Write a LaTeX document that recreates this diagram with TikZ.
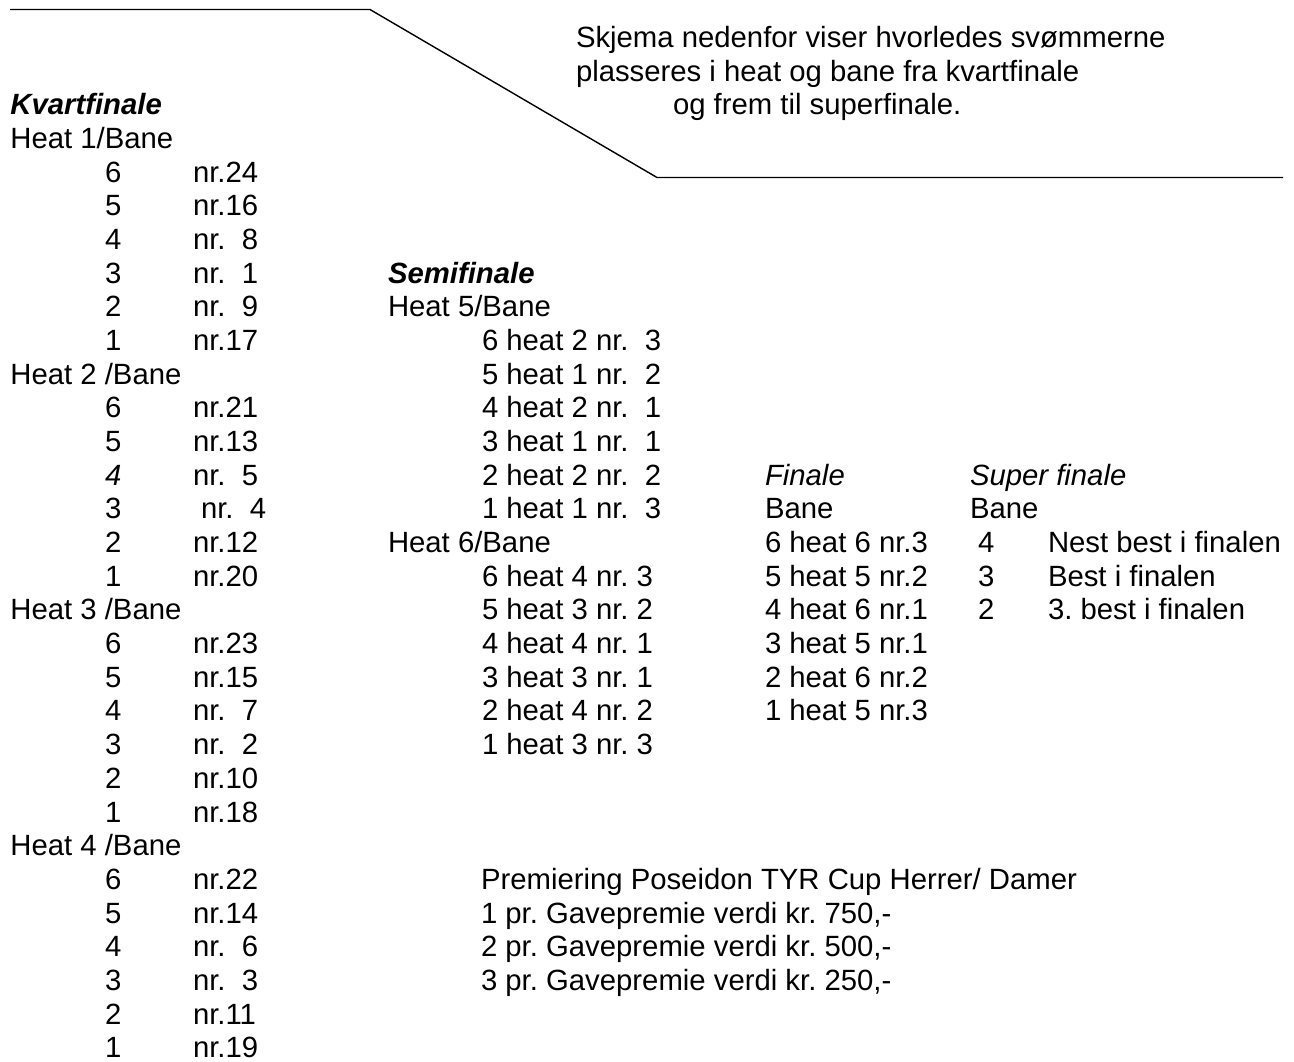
\documentclass[tikz,border=0pt]{standalone}
\usepackage{fontspec}
\setmainfont{Liberation Sans}
\tikzset{
  txt/.style={anchor=base west, inner sep=0pt, outer sep=0pt, font=\fontsize{29.3}{33.7}\selectfont},
  rule/.style={line width=1.4pt, draw=black}
}
\newcommand\Ln[4]{\node[txt] (#1) at (#2,{148.4+33.68*(#3)}) {#4};}
\begin{document}
\frenchspacing
\begin{tikzpicture}[x=1pt,y=-1pt]
\useasboundingbox (0,0) rectangle (1294,1061);
% top rule
\coordinate (tl) at (10,9.5);
\coordinate (c1) at (370,9.5);
\coordinate (c2) at (657,177.5);
\coordinate (tr) at (1283,177.5);
\draw[rule] (tl) -- (c1) -- (c2) -- (tr);
% intro text
\Ln{introA}{576}{-3}{Skjema nedenfor viser hvorledes svømmerne}
\Ln{introB}{576}{-2}{plasseres i heat og bane fra kvartfinale}
\Ln{introC}{673}{-1}{og frem til superfinale.}
% Kvartfinale
\Ln{kv}{10.4}{-1}{\textbf{\textit{Kvartfinale}}}
\Ln{hA}{10.4}{0}{Heat 1/Bane}
\Ln{dA1}{105}{1}{6}\Ln{nA1}{193}{1}{nr.24}
\Ln{dA2}{105}{2}{5}\Ln{nA2}{193}{2}{nr.16}
\Ln{dA3}{105}{3}{4}\Ln{nA3}{193}{3}{nr.\ \ 8}
\Ln{dA4}{105}{4}{3}\Ln{nA4}{193}{4}{nr.\ \ 1}
\Ln{dA5}{105}{5}{2}\Ln{nA5}{193}{5}{nr.\ \ 9}
\Ln{dA6}{105}{6}{1}\Ln{nA6}{193}{6}{nr.17}
\Ln{hB}{10.4}{7}{Heat 2 /Bane}
\Ln{dB1}{105}{8}{6}\Ln{nB1}{193}{8}{nr.21}
\Ln{dB2}{105}{9}{5}\Ln{nB2}{193}{9}{nr.13}
\Ln{dB3}{105}{10}{\textit{4}}\Ln{nB3}{193}{10}{nr.\ \ 5}
\Ln{dB4}{105}{11}{3}\Ln{nB4}{201}{11}{nr.\ \ 4}
\Ln{dB5}{105}{12}{2}\Ln{nB5}{193}{12}{nr.12}
\Ln{dB6}{105}{13}{1}\Ln{nB6}{193}{13}{nr.20}
\Ln{hC}{10.4}{14}{Heat 3 /Bane}
\Ln{dC1}{105}{15}{6}\Ln{nC1}{193}{15}{nr.23}
\Ln{dC2}{105}{16}{5}\Ln{nC2}{193}{16}{nr.15}
\Ln{dC3}{105}{17}{4}\Ln{nC3}{193}{17}{nr.\ \ 7}
\Ln{dC4}{105}{18}{3}\Ln{nC4}{193}{18}{nr.\ \ 2}
\Ln{dC5}{105}{19}{2}\Ln{nC5}{193}{19}{nr.10}
\Ln{dC6}{105}{20}{1}\Ln{nC6}{193}{20}{nr.18}
\Ln{hD}{10.4}{21}{Heat 4 /Bane}
\Ln{dD1}{105}{22}{6}\Ln{nD1}{193}{22}{nr.22}
\Ln{dD2}{105}{23}{5}\Ln{nD2}{193}{23}{nr.14}
\Ln{dD3}{105}{24}{4}\Ln{nD3}{193}{24}{nr.\ \ 6}
\Ln{dD4}{105}{25}{3}\Ln{nD4}{193}{25}{nr.\ \ 3}
\Ln{dD5}{105}{26}{2}\Ln{nD5}{193}{26}{nr.11}
\Ln{dD6}{105}{27}{1}\Ln{nD6}{193}{27}{nr.19}
% Semifinale
\Ln{semi}{388}{4}{\textbf{\textit{Semifinale}}}
\Ln{hE}{388}{5}{Heat 5/Bane}
\Ln{sE1}{482}{6}{6 heat 2 nr.\ \ 3}
\Ln{sE2}{482}{7}{5 heat 1 nr.\ \ 2}
\Ln{sE3}{482}{8}{4 heat 2 nr.\ \ 1}
\Ln{sE4}{482}{9}{3 heat 1 nr.\ \ 1}
\Ln{sE5}{482}{10}{2 heat 2 nr.\ \ 2}
\Ln{sE6}{482}{11}{1 heat 1 nr.\ \ 3}
\Ln{hF}{388}{12}{Heat 6/Bane}
\Ln{sF1}{482}{13}{6 heat 4 nr. 3}
\Ln{sF2}{482}{14}{5 heat 3 nr. 2}
\Ln{sF3}{482}{15}{4 heat 4 nr. 1}
\Ln{sF4}{482}{16}{3 heat 3 nr. 1}
\Ln{sF5}{482}{17}{2 heat 4 nr. 2}
\Ln{sF6}{482}{18}{1 heat 3 nr. 3}
% Finale
\Ln{fin}{765}{10}{\textit{Finale}}
\Ln{finB}{765}{11}{Bane}
\Ln{f1}{765}{12}{6 heat 6 nr.3}
\Ln{f2}{765}{13}{5 heat 5 nr.2}
\Ln{f3}{765}{14}{4 heat 6 nr.1}
\Ln{f4}{765}{15}{3 heat 5 nr.1}
\Ln{f5}{765}{16}{2 heat 6 nr.2}
\Ln{f6}{765}{17}{1 heat 5 nr.3}
% Super finale
\Ln{sup}{970}{10}{\textit{Super finale}}
\Ln{supB}{970}{11}{Bane}
\Ln{sd1}{978}{12}{4}\Ln{st1}{1048}{12}{Nest best i finalen}
\Ln{sd2}{978}{13}{3}\Ln{st2}{1048}{13}{Best i finalen}
\Ln{sd3}{978}{14}{2}\Ln{st3}{1048}{14}{3. best i finalen}
% Premiering
\Ln{pr0}{481}{22}{Premiering Poseidon TYR Cup Herrer/ Damer}
\Ln{pr1}{481}{23}{1 pr. Gavepremie verdi kr. 750,-}
\Ln{pr2}{481}{24}{2 pr. Gavepremie verdi kr. 500,-}
\Ln{pr3}{481}{25}{3 pr. Gavepremie verdi kr. 250,-}
\end{tikzpicture}
\end{document}
